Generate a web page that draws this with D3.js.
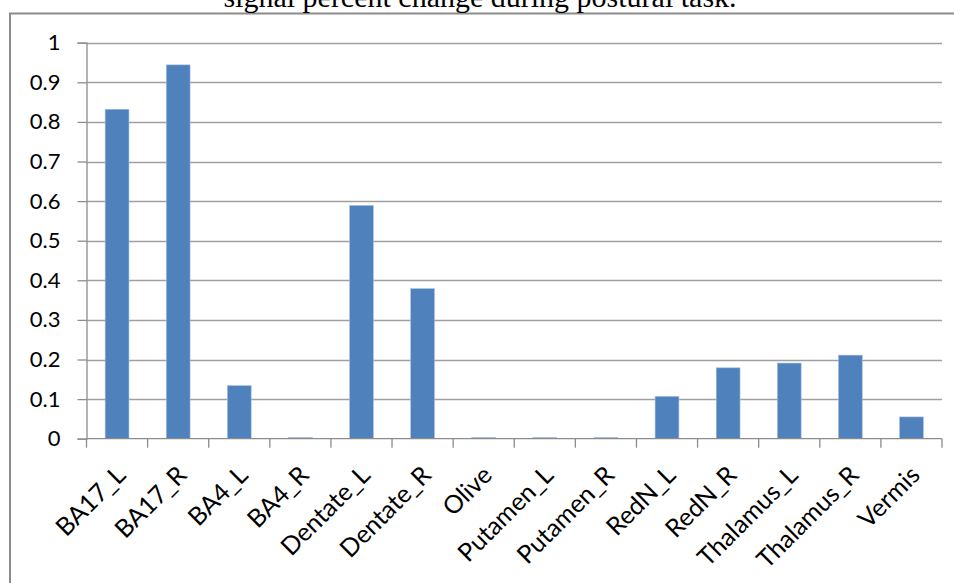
<!DOCTYPE html>
<html>
<head>
<meta charset="utf-8">
<script src="https://cdn.jsdelivr.net/npm/d3@7"></script>
<style>
  html, body { margin: 0; padding: 0; background: #fff; overflow: hidden; }
  svg { display: block; }
</style>
</head>
<body>
<svg id="chart" width="954" height="583"></svg>
<script>
// Regions of interest and their mean signal percent change
const regions = ["BA17_L", "BA17_R", "BA4_L", "BA4_R", "Dentate_L", "Dentate_R", "Olive",
  "Putamen_L", "Putamen_R", "RedN_L", "RedN_R", "Thalamus_L", "Thalamus_R", "Vermis"];
const signalChange = [0.832, 0.944, 0.134, 0.003, 0.589, 0.379, 0.003,
  0.003, 0.003, 0.107, 0.179, 0.191, 0.211, 0.055];
const yTicks = [0, 0.1, 0.2, 0.3, 0.4, 0.5, 0.6, 0.7, 0.8, 0.9, 1];
const yTickLabels = ["0", "0.1", "0.2", "0.3", "0.4", "0.5", "0.6", "0.7", "0.8", "0.9", "1"];
const titleText = "signal percent change during postural task.";

const svg = d3.select("#chart");
const plot = { left: 86.5, right: 942, top: 42.7, bottom: 438.7 };
const labelFont = "Lato, 'Open Sans', sans-serif";

// outer chart frame (right and bottom run past the page edge)
svg.append("rect")
  .attr("x", 10).attr("y", 13.5)
  .attr("width", 1000).attr("height", 700)
  .attr("fill", "none").attr("stroke", "#8c8c8c").attr("stroke-width", 2);

// title
svg.append("text")
  .attr("x", 480).attr("y", 7)
  .attr("text-anchor", "middle")
  .attr("font-family", "'Liberation Serif', 'Times New Roman', serif")
  .attr("font-size", 30)
  .attr("fill", "#000")
  .text(titleText);

const x = d3.scaleBand()
  .domain(regions)
  .range([plot.left, plot.right])
  .paddingInner(0.61)
  .paddingOuter(0.305);

const y = d3.scaleLinear().domain([0, 1]).range([plot.bottom, plot.top]);

// horizontal gridlines
svg.append("g")
  .selectAll("line")
  .data(yTicks.filter(d => d > 0))
  .join("line")
  .attr("x1", plot.left).attr("x2", plot.right)
  .attr("y1", d => Math.round(y(d)) + 0.5).attr("y2", d => Math.round(y(d)) + 0.5)
  .attr("stroke", "#a0a0a0").attr("stroke-width", 1.3);

// bars
svg.append("g")
  .selectAll("rect")
  .data(regions.map((r, i) => ({ r, v: signalChange[i] })))
  .join("rect")
  .attr("x", d => x(d.r))
  .attr("width", x.bandwidth())
  .attr("y", d => y(d.v))
  .attr("height", d => y(0) - y(d.v))
  .attr("fill", "#4f81bd")
  .attr("stroke", "#a8c0e0").attr("stroke-width", 0.6);

// y axis
const yAxis = d3.axisLeft(y)
  .tickValues(yTicks)
  .tickFormat((d, i) => yTickLabels[i])
  .tickSize(9)
  .tickPadding(17);
const gy = svg.append("g")
  .attr("transform", `translate(${plot.left},0)`)
  .call(yAxis);
gy.select(".domain").attr("stroke", "#8c8c8c").attr("stroke-width", 1.3);
gy.selectAll(".tick line").attr("stroke", "#8c8c8c").attr("stroke-width", 1.3);
gy.selectAll(".tick text")
  .attr("font-family", labelFont).attr("font-size", 22).attr("fill", "#000");

// x axis: ticks sit on category boundaries
const step = x.step();
const boundaries = d3.range(regions.length + 1).map(i => plot.left + i * step);
const gx = svg.append("g");
gx.append("line")
  .attr("x1", plot.left).attr("x2", plot.right)
  .attr("y1", y(0)).attr("y2", y(0))
  .attr("stroke", "#8c8c8c").attr("stroke-width", 1.3);
gx.selectAll("line.tk")
  .data(boundaries)
  .join("line").attr("class", "tk")
  .attr("x1", d => d).attr("x2", d => d)
  .attr("y1", y(0)).attr("y2", y(0) + 9)
  .attr("stroke", "#8c8c8c").attr("stroke-width", 1.3);

// rotated category labels
gx.selectAll("text")
  .data(regions)
  .join("text")
  .attr("transform", d => `translate(${x(d) + x.bandwidth() / 2 + 10},${y(0) + 38}) rotate(-45)`)
  .attr("text-anchor", "end")
  .attr("font-family", labelFont).attr("font-size", 25).attr("fill", "#000")
  .text(d => d);
</script>
</body>
</html>
